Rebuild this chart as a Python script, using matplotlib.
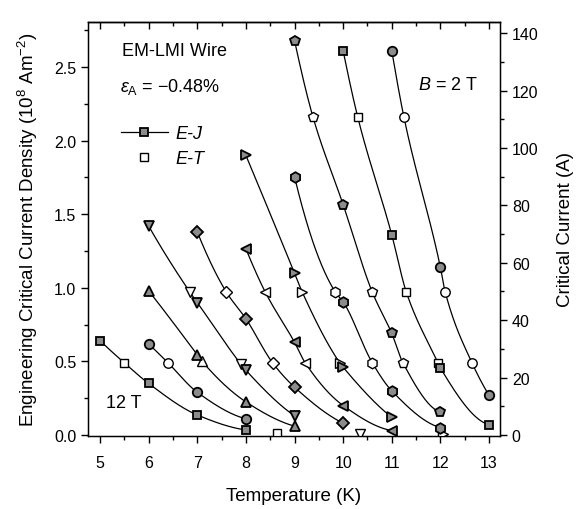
import numpy as np
import matplotlib
matplotlib.use("Agg")
import matplotlib.pyplot as plt
from matplotlib.lines import Line2D
from matplotlib.ticker import MultipleLocator, FormatStrFormatter, NullFormatter

plt.rcParams['font.family'] = ['Liberation Sans', 'DejaVu Sans']
plt.rcParams['mathtext.fontset'] = 'custom'
plt.rcParams['mathtext.rm'] = 'Liberation Sans'
plt.rcParams['mathtext.it'] = 'Liberation Sans:italic'

# J (10^8 A/m^2) per ampere of critical current
J_PER_AMP = 0.0195

fields = ['12 T', '11 T', '10 T', '9 T', '8 T', '7 T', '6 T', '5 T', '4 T', '3 T', '2 T']
markers = ['s', 'o', '^', 'v', 'D', '<', '>', 'h', 'p', 's', 'o']
marker_sizes = {'s': 6.3, 'o': 6.8, '^': 7.0, 'v': 7.0, 'D': 6.3,
                '<': 7.0, '>': 7.0, 'h': 7.6, 'p': 7.8}

# E-J criterion points: temperature (K), Jc (10^8 A/m^2)
ej_T = [
    [5, 6, 7, 8],
    [6, 7, 8],
    [6, 7, 8, 9],
    [6, 7, 8, 9],
    [7, 8, 9, 10],
    [8, 9, 10, 11],
    [8, 9, 10, 11],
    [9, 10, 11, 12],
    [9, 10, 11, 12],
    [10, 11, 12, 13],
    [11, 12, 13],
]
ej_J = [
    [0.64, 0.35, 0.136, 0.034],
    [0.62, 0.29, 0.11],
    [0.98, 0.545, 0.225, 0.06],
    [1.42, 0.90, 0.44, 0.13],
    [1.38, 0.79, 0.325, 0.08],
    [1.265, 0.63, 0.20, 0.03],
    [1.90, 1.10, 0.46, 0.12],
    [1.755, 0.905, 0.30, 0.05],
    [2.68, 1.565, 0.69, 0.155],
    [2.61, 1.36, 0.455, 0.07],
    [2.61, 1.14, 0.27],
]

# E-T criterion points: temperature (K), Jc (10^8 A/m^2)
et_T = [
    [5.5, 8.65],
    [6.4],
    [7.1],
    [6.85, 7.9, 10.35],
    [7.6, 8.55],
    [8.4, 9.22],
    [9.16, 9.93, 12.05],
    [9.84, 10.6],
    [9.38, 10.6, 11.23],
    [10.3, 11.3, 11.95],
    [11.25, 12.1, 12.65],
]
et_J = [
    [0.49, 0.012],
    [0.49],
    [0.50],
    [0.97, 0.48, 0.008],
    [0.97, 0.49],
    [0.97, 0.49],
    [0.97, 0.49, 0.005],
    [0.97, 0.49],
    [2.16, 0.97, 0.49],
    [2.16, 0.97, 0.49],
    [2.16, 0.97, 0.49],
]


def pchip(x, y, xs):
    """Shape-preserving piecewise cubic Hermite curve."""
    x = np.asarray(x, float)
    y = np.asarray(y, float)
    h = np.diff(x)
    d = np.diff(y) / h
    n = len(x)
    m = np.zeros(n)
    if n == 2:
        m[:] = d[0]
    else:
        for k in range(1, n - 1):
            if d[k - 1] * d[k] <= 0:
                m[k] = 0.0
            else:
                w1 = 2 * h[k] + h[k - 1]
                w2 = h[k] + 2 * h[k - 1]
                m[k] = (w1 + w2) / (w1 / d[k - 1] + w2 / d[k])

        def end(h0, h1, d0, d1):
            s = ((2 * h0 + h1) * d0 - h0 * d1) / (h0 + h1)
            if np.sign(s) != np.sign(d0):
                s = 0.0
            elif np.sign(d0) != np.sign(d1) and abs(s) > abs(3 * d0):
                s = 3 * d0
            return s

        m[0] = end(h[0], h[1], d[0], d[1])
        m[-1] = end(h[-1], h[-2], d[-1], d[-2])
    idx = np.clip(np.searchsorted(x, xs) - 1, 0, n - 2)
    t = (xs - x[idx]) / h[idx]
    h00 = 2 * t**3 - 3 * t**2 + 1
    h10 = t**3 - 2 * t**2 + t
    h01 = -2 * t**3 + 3 * t**2
    h11 = t**3 - t**2
    return (h00 * y[idx] + h10 * h[idx] * m[idx]
            + h01 * y[idx + 1] + h11 * h[idx] * m[idx + 1])


W, H, DPI = 577, 510, 100
fig = plt.figure(figsize=(W / DPI, H / DPI), dpi=DPI)
ax = fig.add_axes([88 / W, 1 - 437 / H, (500 - 88) / W, (437 - 23) / H])

xlim = (4.753, 13.226)
ylim = (-0.007, 2.806)

for i in range(len(fields)):
    tj, jj = ej_T[i], ej_J[i]
    lo, hi = min(tj), max(tj)
    pts = sorted([(t, j) for t, j in zip(tj, jj)] +
                 [(t, j) for t, j in zip(et_T[i], et_J[i]) if lo < t < hi])
    px = np.array([p[0] for p in pts])
    py = np.array([p[1] for p in pts])
    xs = np.linspace(lo, hi, 200)
    ax.plot(xs, pchip(px, py, xs), color='black', lw=0.9, zorder=2)
    ms = marker_sizes[markers[i]]
    ax.plot(tj, jj, linestyle='none', marker=markers[i], ms=ms,
            mfc='0.55', mec='black', mew=1.3, zorder=4)
    ax.plot(et_T[i], et_J[i], linestyle='none', marker=markers[i], ms=ms,
            mfc='white', mec='black', mew=1.0, zorder=3)

ax.set_xlim(*xlim)
ax.set_ylim(*ylim)
ax.xaxis.set_major_locator(MultipleLocator(1))
ax.xaxis.set_minor_locator(MultipleLocator(0.5))
ax.yaxis.set_major_locator(MultipleLocator(0.5))
ax.yaxis.set_minor_locator(MultipleLocator(0.25))
ax.yaxis.set_major_formatter(FormatStrFormatter('%.1f'))
ax.tick_params(axis='both', which='both', direction='out', labelsize=11.5,
               width=1.0, top=False)
ax.tick_params(axis='both', which='major', length=5)
ax.tick_params(axis='both', which='minor', length=3)
ax.tick_params(axis='x', which='major', pad=9)
for s in ax.spines.values():
    s.set_linewidth(1.0)

# inward ticks along the top edge
top = ax.secondary_xaxis('top')
top.xaxis.set_major_locator(MultipleLocator(1))
top.xaxis.set_minor_locator(MultipleLocator(0.5))
top.xaxis.set_major_formatter(NullFormatter())
top.tick_params(axis='x', which='both', direction='in', width=1.0)
top.tick_params(axis='x', which='major', length=5)
top.tick_params(axis='x', which='minor', length=3)
top.spines['top'].set_linewidth(1.0)

ax2 = ax.twinx()
ax2.set_ylim(ylim[0] / J_PER_AMP, ylim[1] / J_PER_AMP)
ax2.yaxis.set_major_locator(MultipleLocator(20))
ax2.yaxis.set_minor_locator(MultipleLocator(10))
ax2.tick_params(axis='y', which='both', direction='out', labelsize=11.5, width=1.0)
ax2.tick_params(axis='y', which='major', length=5)
ax2.tick_params(axis='y', which='minor', length=3)

ax.set_xlabel('Temperature (K)', fontsize=13.5, labelpad=12)
ax.set_ylabel(r'Engineering Critical Current Density (10$^{8}$ Am$^{-2}$)',
              fontsize=13.5, labelpad=10)
ax2.set_ylabel('Critical Current (A)', fontsize=13.5, labelpad=13)

ax.text(122 / W, 1 - 51 / H, 'EM-LMI Wire', transform=fig.transFigure,
        fontsize=13, va='center', ha='left')
ax.text(120 / W, 1 - 87 / H, r'$\varepsilon_{\rm A}$ = ' + '\u22120.48%',
        transform=fig.transFigure, fontsize=13, va='center', ha='left')
ax.text(418 / W, 1 - 86 / H, r'$B$ = 2 T', transform=fig.transFigure,
        fontsize=13, va='center', ha='left')
ax.text(106 / W, 1 - 404 / H, '12 T', transform=fig.transFigure,
        fontsize=13, va='center', ha='left')

handles = [
    Line2D([], [], color='black', lw=0.9, marker='s', ms=6.3, mfc='0.55',
           mec='black', mew=1.3),
    Line2D([], [], color='none', lw=0, marker='s', ms=6.3, mfc='white',
           mec='black', mew=1.0),
]
leg = ax.legend(handles, ['E-J', 'E-T'], loc='upper left',
                bbox_to_anchor=(121 / W, 1 - 126 / H), bbox_transform=fig.transFigure,
                frameon=False, prop={'style': 'italic', 'size': 13},
                handlelength=2.6, handletextpad=0.4, labelspacing=0.45,
                borderpad=0, borderaxespad=0)

fig.savefig('out.png', dpi=DPI)
